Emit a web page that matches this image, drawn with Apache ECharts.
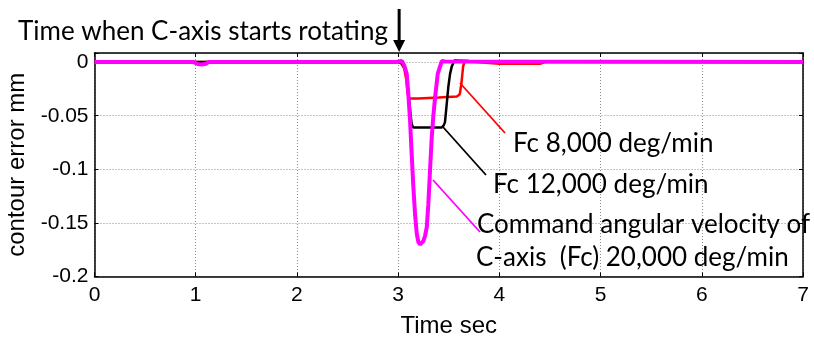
<!DOCTYPE html>
<html>
<head>
<meta charset="utf-8">
<script src="https://cdn.jsdelivr.net/npm/echarts@6/dist/echarts.min.js"></script>
<style>
  html, body { margin: 0; padding: 0; background: #fff; }
  #chart { width: 814px; height: 340px; }
</style>
</head>
<body>
<div id="chart"></div>
<script>
// Contour error recorded while the C-axis starts rotating at t = 3 s,
// for three commanded angular velocities (Fc).

// Fc 8,000 deg/min
const time8k = [0, 3.00, 3.03, 3.06, 3.08, 3.095, 3.11, 3.2, 3.4, 3.58, 3.609, 3.625, 3.642, 3.658, 3.7, 4.0, 4.4, 4.45, 7];
const err8k  = [0, 0, -0.001, -0.006, -0.016, -0.030, -0.034, -0.034, -0.033, -0.032, -0.030, -0.020, -0.004, 0.001, 0.0005, -0.0015, -0.0015, 0, 0];

// Fc 12,000 deg/min
const time12k = [0, 3.00, 3.03, 3.06, 3.085, 3.10, 3.118, 3.134, 3.15, 3.2, 3.3, 3.431, 3.45, 3.463, 3.48, 3.496, 3.513, 3.53, 3.556, 3.7, 7];
const err12k  = [0, 0, -0.001, -0.004, -0.012, -0.028, -0.045, -0.058, -0.061, -0.061, -0.061, -0.061, -0.059, -0.056, -0.039, -0.023, -0.011, -0.004, 0.0015, 0.001, 0];

// Fc 20,000 deg/min
const time20k = [0, 0.98, 1.02, 1.06, 1.10, 1.13, 2.97, 3.01, 3.036, 3.06, 3.085, 3.101, 3.118, 3.134, 3.150, 3.167, 3.184, 3.20, 3.218, 3.235, 3.249, 3.266, 3.283, 3.298, 3.315, 3.332, 3.348, 3.365, 3.391, 3.431, 3.463, 7];
const err20k  = [0, 0, -0.0018, -0.0022, -0.0016, 0, 0, 0.0006, 0.0012, -0.003, -0.011, -0.030, -0.055, -0.086, -0.116, -0.142, -0.160, -0.168, -0.170, -0.170, -0.167, -0.162, -0.154, -0.133, -0.101, -0.070, -0.050, -0.033, -0.011, 0.001, 0.0005, 0];

// Axis settings
const xTicks = { min: 0, max: 7, interval: 1 };
const yTicks = { min: -0.2, max: 0.0085, interval: 0.05 };

// Annotation texts
const startText = 'Time when C-axis starts rotating';
const label8k = 'Fc 8,000 deg/min';
const label12k = 'Fc 12,000 deg/min';
const label20kLine1 = 'Command angular velocity of';
const label20kLine2 = 'C-axis  (Fc) 20,000 deg/min';
const startTime = 3;

const pairs = (t, v) => t.map((x, i) => [x, v[i]]);

const tickFont = { fontFamily: '"Liberation Sans", Arial, sans-serif', fontSize: 21, color: '#000' };
const noteFont = '26px "Lato", "Noto Sans", sans-serif';

const chart = echarts.init(document.getElementById('chart'), null, { renderer: 'canvas' });

const frameLine = { show: true, onZero: false, lineStyle: { color: '#000', width: 1.5 } };
const innerTick = { show: true, inside: true, length: 4, lineStyle: { color: '#000', width: 1 } };
const gridDots = { show: true, lineStyle: { color: '#8a8a8a', width: 1, type: [1, 2] } };

chart.setOption({
  animation: false,
  backgroundColor: '#fff',
  grid: { left: 94.5, right: 11, top: 53, bottom: 63.5, containLabel: false, outerBoundsMode: 'none' },
  xAxis: [
    {
      type: 'value', position: 'bottom',
      min: xTicks.min, max: xTicks.max, interval: xTicks.interval,
      name: 'Time sec', nameLocation: 'middle', nameGap: 38,
      nameTextStyle: { fontFamily: tickFont.fontFamily, fontSize: 24, color: '#000' },
      axisLine: frameLine, axisTick: innerTick, splitLine: gridDots,
      axisLabel: Object.assign({ margin: 8 }, tickFont)
    },
    {
      type: 'value', position: 'top',
      min: xTicks.min, max: xTicks.max, interval: xTicks.interval,
      axisLine: frameLine, axisTick: innerTick, splitLine: { show: false },
      axisLabel: { show: false }
    }
  ],
  yAxis: [
    {
      type: 'value', position: 'left',
      min: yTicks.min, max: yTicks.max, interval: yTicks.interval,
      name: 'contour error mm', nameLocation: 'middle', nameGap: 63, nameRotate: 90,
      nameTextStyle: { fontFamily: tickFont.fontFamily, fontSize: 24, color: '#000' },
      axisLine: frameLine, axisTick: innerTick, splitLine: gridDots,
      axisLabel: Object.assign({
        margin: 6,
        formatter: v => {
          if (v > 1e-9) return '';
          const r = Math.round(v * 100) / 100;
          return String(r === 0 ? 0 : r);
        }
      }, tickFont)
    },
    {
      type: 'value', position: 'right',
      min: yTicks.min, max: yTicks.max, interval: yTicks.interval,
      axisLine: frameLine, axisTick: innerTick, splitLine: { show: false },
      axisLabel: { show: false }
    }
  ],
  series: [
    {
      name: label8k, type: 'line', data: pairs(time8k, err8k),
      showSymbol: false, symbol: 'none', lineStyle: { color: '#ff0000', width: 2.5 }, z: 2
    },
    {
      name: label12k, type: 'line', data: pairs(time12k, err12k),
      showSymbol: false, symbol: 'none', lineStyle: { color: '#000000', width: 2.5 }, z: 3
    },
    {
      name: label20kLine2, type: 'line', data: pairs(time20k, err20k),
      showSymbol: false, symbol: 'none', lineStyle: { color: '#ff00ff', width: 4 }, z: 4
    }
  ]
});

// Arrow marking the start of the C-axis rotation, plus leader lines and notes
const ax = chart.convertToPixel({ xAxisIndex: 0 }, startTime);
const topY = 53;

function note(text, x, y) {
  return {
    type: 'text', z: 10, x: x, y: y,
    style: { text: text, font: noteFont, fill: '#000', verticalAlign: 'middle', align: 'left' }
  };
}
function leader(x1, y1, x2, y2, color) {
  return { type: 'line', z: 9, shape: { x1, y1, x2, y2 }, style: { stroke: color, lineWidth: 1.8 } };
}

chart.setOption({
  graphic: [
    { type: 'line', z: 10, shape: { x1: ax + 1, y1: 9, x2: ax + 1, y2: topY - 12 }, style: { stroke: '#000', lineWidth: 3 } },
    { type: 'polygon', z: 10, shape: { points: [[ax - 5, topY - 13], [ax + 7, topY - 13], [ax + 1, topY - 1]] }, style: { fill: '#000' } },
    note(startText, 18, 32),
    leader(460, 83, 505, 133, '#ff0000'),
    leader(443, 127, 486, 175, '#000000'),
    leader(433, 180, 480, 232, '#ff00ff'),
    note(label8k, 513, 144),
    note(label12k, 493, 185),
    note(label20kLine1, 477, 225),
    note(label20kLine2, 476, 258)
  ]
});
</script>
</body>
</html>
